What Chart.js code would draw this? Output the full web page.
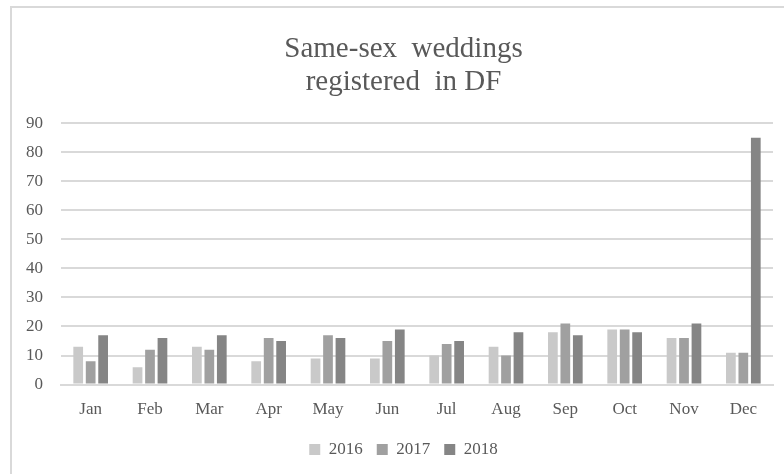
<!DOCTYPE html>
<html>
<head>
<meta charset="utf-8">
<script src="https://cdn.jsdelivr.net/npm/chart.js@4/dist/chart.umd.min.js"></script>
<style>
    html, body { margin: 0; padding: 0; background: #fff; }
    #wrap { position: relative; width: 784px; height: 474px; overflow: hidden; }
    #frame { position: absolute; left: 10px; top: 6px; width: 800px; height: 500px;
             border-left: 2px solid #d9d9d9; border-top: 2px solid #d9d9d9; }
    #box { position: absolute; left: 0; top: 0; width: 784px; height: 474px; }
</style>
</head>
<body>
<div id="wrap">
    <div id="frame"></div>
    <div id="box"><canvas id="weddingChart"></canvas></div>
</div>
<script>
const months = ['Jan', 'Feb', 'Mar', 'Apr', 'May', 'Jun', 'Jul', 'Aug', 'Sep', 'Oct', 'Nov', 'Dec'];
const years = ['2016', '2017', '2018'];
const weddings2016 = [13, 6, 13, 8, 9, 9, 10, 13, 18, 19, 16, 11];
const weddings2017 = [8, 12, 12, 16, 17, 15, 14, 10, 21, 19, 16, 11];
const weddings2018 = [17, 16, 17, 15, 16, 19, 15, 18, 17, 18, 21, 85];
const yTicks = [0, 10, 20, 30, 40, 50, 60, 70, 80, 90];
const barColors = ['#c9c9c9', '#a0a0a0', '#858585'];

document.addEventListener("DOMContentLoaded", function() {
    renderWeddingChart();
});

// y axis is narrowed in afterFit so the title/legend sit further right;
// widen its clip area back so the tick labels are not cut off
const unclipYAxis = {
    id: 'unclipYAxis',
    afterLayout(chart) {
        chart.scales.y.left = 0;
    }
};

function renderWeddingChart() {
    const ctx = document.getElementById('weddingChart').getContext('2d');
    const seriesData = [weddings2016, weddings2017, weddings2018];
    const textColor = '#595959';
    const serif = "'Liberation Serif', 'Times New Roman', serif";

    new Chart(ctx, {
        type: 'bar',
        data: {
            labels: months,
            datasets: years.map((y, i) => ({
                label: y,
                data: seriesData[i],
                backgroundColor: barColors[i],
                barPercentage: 0.78,
                categoryPercentage: 0.63
            }))
        },
        plugins: [unclipYAxis],
        options: {
            responsive: true,
            maintainAspectRatio: false,
            animation: false,
            layout: { padding: { left: 34, right: 11, top: 33, bottom: 6 } },
            plugins: {
                title: {
                    display: true,
                    text: ['Same-sex  weddings', 'registered  in DF'],
                    color: textColor,
                    font: { family: serif, size: 29, weight: 'normal', lineHeight: 1.14 },
                    padding: { top: 0, bottom: 24 }
                },
                legend: {
                    position: 'bottom',
                    labels: {
                        color: textColor,
                        font: { family: serif, size: 17 },
                        boxWidth: 11,
                        boxHeight: 11,
                        padding: 14
                    }
                },
                tooltip: { enabled: false }
            },
            scales: {
                x: {
                    grid: { display: false },
                    border: { color: '#d9d9d9', width: 2 },
                    ticks: { color: textColor, font: { family: serif, size: 17 }, padding: 7 }
                },
                y: {
                    min: 0,
                    max: 90,
                    afterBuildTicks: axis => { axis.ticks = yTicks.map(v => ({ value: v })); },
                    afterFit: axis => { axis.width -= 26; },
                    grid: { color: '#d9d9d9', lineWidth: 2, drawTicks: false },
                    border: { display: false },
                    ticks: { color: textColor, font: { family: serif, size: 17 }, padding: 18 }
                }
            }
        }
    });
}
</script>
</body>
</html>
